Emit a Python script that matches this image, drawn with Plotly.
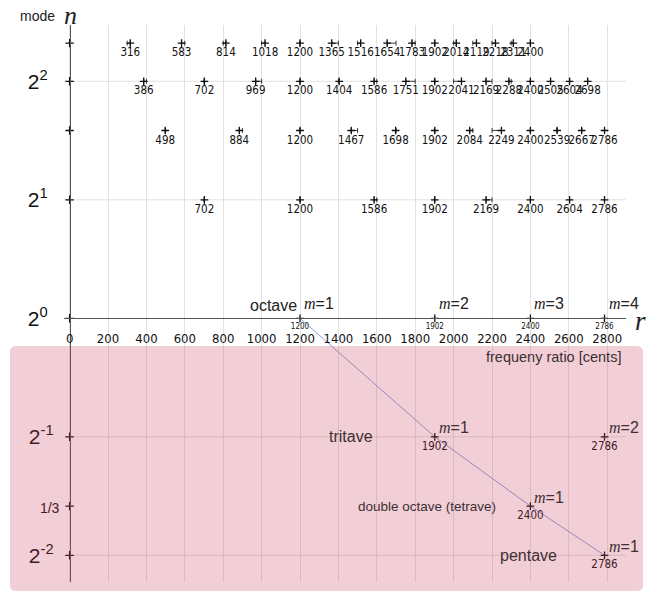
import math
import plotly.graph_objects as go

# ---------------- data ----------------
cents_n5 = [316, 583, 814, 1018, 1200, 1365, 1516, 1654, 1783, 1902, 2014, 2119, 2218, 2311, 2400]
cents_n4 = [386, 702, 969, 1200, 1404, 1586, 1751, 1902, 2041, 2169, 2288, 2400, 2505, 2604, 2698]
cents_n3 = [498, 884, 1200, 1467, 1698, 1902, 2084, 2249, 2400, 2539, 2667, 2786]
cents_n2 = [702, 1200, 1586, 1902, 2169, 2400, 2604, 2786]
cents_n1 = [1200, 1902, 2400, 2786]
cents_half = [1902, 2786]
cents_third = [2400]
cents_quarter = [2786]

mode_values = [5, 4, 3, 2, 1, 1 / 2, 1 / 3, 1 / 4]
ytick_text = ["", "2<sup>2</sup>&nbsp;&nbsp;", "", "2<sup>1</sup>&nbsp;&nbsp;", "2<sup>0</sup>&nbsp;&nbsp;",
              "2<sup>-1</sup>&nbsp;", '<span style="font-size:14px">1/3</span>', "2<sup>-2</sup>&nbsp;"]
grid_modes = [4, 2, 1 / 2, 1 / 4]
xtick_vals = list(range(0, 2801, 200))

diag_cents = [1200, 1902, 2400, 2786]
diag_modes = [1, 1 / 2, 1 / 3, 1 / 4]

# annotation labels: (cents, mode, m-label)
m_labels_top = [(1200, 1, "1"), (1902, 1, "2"), (2400, 1, "3"), (2786, 1, "4")]
m_labels_low = [(1902, 1 / 2, "1"), (2786, 1 / 2, "2"), (2400, 1 / 3, "1"), (2786, 1 / 4, "1")]
interval_names = [("tritave", 1466, 1 / 2, 16), ("double octave (tetrave)", 1859, 1 / 3, 13.5),
                  ("pentave", 2390, 1 / 4, 16)]

# ---------------- styling ----------------
NARROW = "Liberation Sans Narrow, DejaVu Sans Condensed, Arial Narrow, sans-serif"
SANS = "Liberation Sans, Arial, sans-serif"
SERIF = "Liberation Serif, Times New Roman, serif"
INK = "#111111"
PINK_INK = "#3d3034"

fig = go.Figure()

# diagonal line
fig.add_trace(go.Scatter(x=diag_cents, y=diag_modes, mode="lines",
                         line=dict(color="#8c9fd8", width=1), hoverinfo="skip"))

# y-axis "+" ticks
fig.add_trace(go.Scatter(x=[0] * len(mode_values), y=mode_values, mode="markers",
                         marker=dict(symbol="cross-thin", size=6, line=dict(width=1.3, color=INK)),
                         hoverinfo="skip"))


def dev(c):
    near = round(c / 100) * 100
    return near - c


def add_row(cents, n, fsize, with_err):
    plus = [max(dev(c), 0) if (with_err and c <= 2400) else 0 for c in cents]
    minus = [max(-dev(c), 0) if (with_err and c <= 2400) else 0 for c in cents]
    kw = {}
    if with_err:
        kw["error_x"] = dict(type="data", symmetric=False, array=plus, arrayminus=minus,
                             color=INK, thickness=0.8, width=2.5)
    fig.add_trace(go.Scatter(
        x=cents, y=[n] * len(cents), mode="markers+text",
        text=[str(c) for c in cents], textposition="bottom center",
        textfont=dict(family=NARROW, size=fsize, color=INK),
        marker=dict(symbol="cross-thin", size=5.5, line=dict(width=1.3, color=INK)),
        hoverinfo="skip", **kw))


add_row(cents_n5, 5, 11.5, True)
add_row(cents_n4, 4, 11.5, True)
add_row(cents_n3, 3, 11.5, True)
add_row(cents_n2, 2, 11.5, True)
add_row(cents_n1, 1, 8, False)
add_row(cents_half, 1 / 2, 11.5, False)
add_row(cents_third, 1 / 3, 11.5, False)
add_row(cents_quarter, 1 / 4, 11.5, False)

shapes = []
for g in grid_modes:
    shapes.append(dict(type="line", xref="paper", x0=0, x1=1, yref="y", y0=g, y1=g,
                       line=dict(color="#e2e2e2", width=1), layer="below"))

# pink region (paper coords, rounded corners)
x0, x1, y0, y1 = -0.0961, 1.0302, -0.0162, 0.4237
rx, ry = 0.0107, 0.0108
path = (f"M {x0+rx},{y0} L {x1-rx},{y0} Q {x1},{y0} {x1},{y0+ry} L {x1},{y1-ry} "
        f"Q {x1},{y1} {x1-rx},{y1} L {x0+rx},{y1} Q {x0},{y1} {x0},{y1-ry} "
        f"L {x0},{y0+ry} Q {x0},{y0} {x0+rx},{y0} Z")
shapes.append(dict(type="path", xref="paper", yref="paper", path=path,
                   fillcolor="rgba(203,59,91,0.25)", line=dict(width=0), layer="above"))

M = '<span style="font-family:Liberation Serif;font-style:italic">m</span>='
annotations = []
annotations.append(dict(x=1200, y=0, xref="x", yref="y", text="octave", showarrow=False,
                        xanchor="right", yanchor="middle", xshift=-1, yshift=13,
                        font=dict(family=SANS, size=16, color="#222")))
for c, n, lab in m_labels_top:
    annotations.append(dict(x=c, y=math.log10(n), xref="x", yref="y", text=M + lab, showarrow=False,
                            xanchor="left", yanchor="middle", xshift=2, yshift=15,
                            font=dict(family=SANS, size=16, color="#222")))
for c, n, lab in m_labels_low:
    annotations.append(dict(x=c, y=math.log10(n), xref="x", yref="y", text=M + lab, showarrow=False,
                            xanchor="left", yanchor="middle", xshift=2, yshift=9,
                            font=dict(family=SANS, size=16, color=PINK_INK)))
for name, c, n, fs in interval_names:
    annotations.append(dict(x=c, y=math.log10(n), xref="x", yref="y", text=name, showarrow=False,
                            xanchor="center", yanchor="middle",
                            font=dict(family=SANS, size=fs, color=PINK_INK)))
annotations.append(dict(x=0.871, y=0.404, xref="paper", yref="paper", text="frequeny ratio [cents]",
                        showarrow=False, xanchor="center", yanchor="middle",
                        font=dict(family=SANS, size=14.5, color=PINK_INK)))
annotations.append(dict(x=-0.048, y=1.016, xref="paper", yref="paper", text="mode",
                        showarrow=False, xanchor="center", yanchor="middle",
                        font=dict(family=SANS, size=14, color="#222")))
annotations.append(dict(x=0.0107, y=1.017, xref="paper", yref="paper", text="<i>n</i>",
                        showarrow=False, xanchor="center", yanchor="middle",
                        font=dict(family=SERIF, size=26, color="#222")))
annotations.append(dict(x=1.025, y=0.4686, xref="paper", yref="paper", text="<i>r</i>",
                        showarrow=False, xanchor="center", yanchor="middle",
                        font=dict(family=SERIF, size=27, color="#222")))

fig.update_layout(
    width=658, height=600,
    margin=dict(l=64, r=32, t=25, b=18),
    paper_bgcolor="white", plot_bgcolor="white",
    showlegend=False,
    shapes=shapes, annotations=annotations,
    xaxis=dict(range=[-29.2, 2897.9], tickmode="array", tickvals=xtick_vals,
               ticktext=[str(v) for v in xtick_vals],
               showgrid=True, gridcolor="#e2e2e2", gridwidth=1, zeroline=False,
               showline=True, linecolor="#555", linewidth=1,
               anchor="free", position=0.4734, ticks="", ticklabelstandoff=8,
               tickfont=dict(family=NARROW, size=13, color=INK)),
    yaxis=dict(type="log", range=[-0.6699, 0.7451], tickmode="array", tickvals=mode_values,
               ticktext=ytick_text, showgrid=False, zeroline=False,
               showline=True, linecolor="#555", linewidth=1,
               anchor="free", position=0.00996, ticks="", ticklabelstandoff=6,
               tickfont=dict(family=SANS, size=21, color=INK)),
)

fig.write_html("out.html")
